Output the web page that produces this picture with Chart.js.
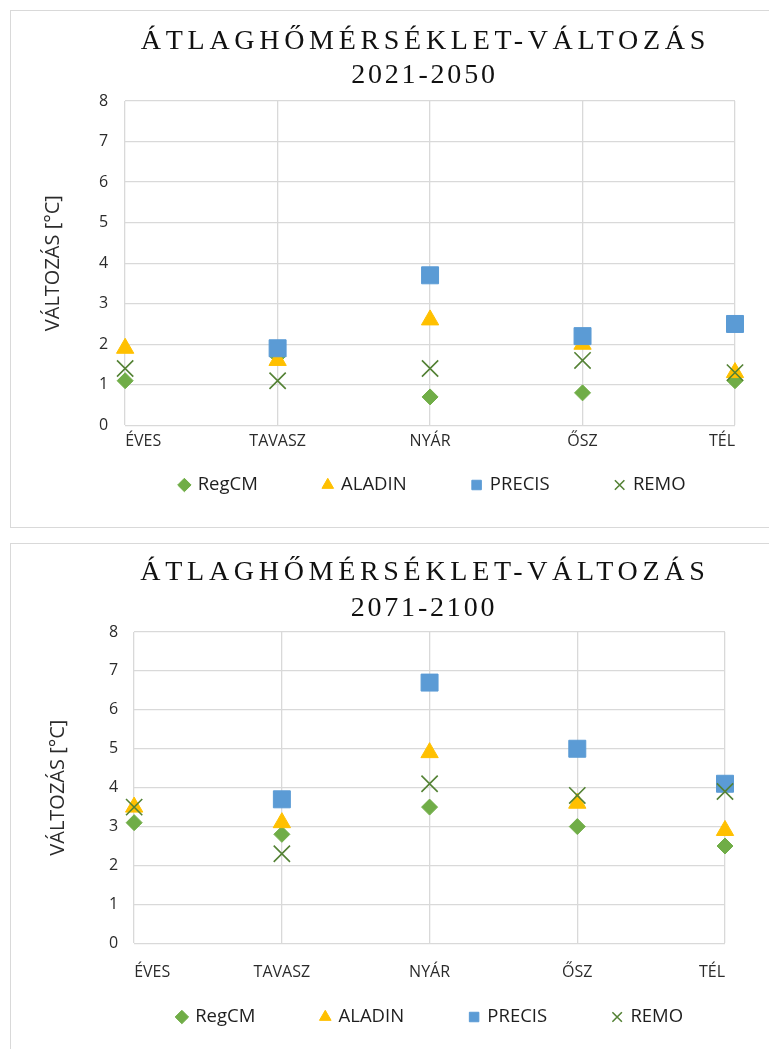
<!DOCTYPE html>
<html>
<head>
<meta charset="utf-8">
<script src="https://cdn.jsdelivr.net/npm/chart.js@4"></script>
<style>
  body { margin: 0; background: #fff; }
  .panel { position: absolute; left: 10px; width: 770px; border: 1px solid #d9d9d9; overflow: hidden; background: #fff; }
  #p1 { top: 10px; height: 516px; }
  #p2 { top: 543px; height: 520px; }
  .panel canvas { position: absolute; left: 0; top: 0; }
</style>
</head>
<body>
<div class="panel" id="p1"><canvas id="c1" width="760" height="611"></canvas></div>
<div class="panel" id="p2"><canvas id="c2" width="760" height="611"></canvas></div>
<script>
// Seasons on the x axis and the four regional climate models
const seasons = ['ÉVES', 'TAVASZ', 'NYÁR', 'ŐSZ', 'TÉL'];
const models = ['RegCM', 'ALADIN', 'PRECIS', 'REMO'];
const yTickValues = [0, 1, 2, 3, 4, 5, 6, 7, 8];

// Mean temperature change [°C], 2021-2050
const regcm2021 = [1.1, 1.7, 0.7, 0.8, 1.1];
const aladin2021 = [1.9, 1.6, 2.6, 2.0, 1.3];
const precis2021 = [null, 1.9, 3.7, 2.2, 2.5];
const remo2021 = [1.4, 1.1, 1.4, 1.6, 1.3];

// Mean temperature change [°C], 2071-2100
const regcm2071 = [3.1, 2.8, 3.5, 3.0, 2.5];
const aladin2071 = [3.5, 3.1, 4.9, 3.6, 2.9];
const precis2071 = [null, 3.7, 6.7, 5.0, 4.1];
const remo2071 = [3.5, 2.3, 4.1, 3.8, 3.9];

const titleMain = 'ÁTLAGHŐMÉRSÉKLET-VÁLTOZÁS';
const period1 = '2021-2050';
const period2 = '2071-2100';
const yAxisTitle = 'VÁLTOZÁS [°C]';

// Marker look for each model
const markerStyles = [
  { pointStyle: 'rectRot', color: '#70AD47', radius: 8, border: 1, order: 4 },
  { pointStyle: 'triangle', color: '#FFC000', radius: 10, border: 1, order: 3 },
  { pointStyle: 'rect', color: '#5B9BD5', radius: 12, border: 1, order: 2 },
  { pointStyle: 'crossRot', color: '#548235', radius: 11.5, border: 1.6, order: 1 }
];

// Two-line title with its own letter spacing per line
const spacedTitle = {
  id: 'spacedTitle',
  afterDraw(chart, args, opts) {
    const { ctx, chartArea } = chart;
    const cx = (chartArea.left + chartArea.right) / 2 + opts.shift;
    ctx.save();
    ctx.font = opts.font;
    ctx.fillStyle = opts.color;
    ctx.textAlign = 'left';
    ctx.textBaseline = 'alphabetic';
    opts.lines.forEach((line, i) => {
      ctx.letterSpacing = opts.spacing[i] + 'px';
      const w = ctx.measureText(line).width - opts.spacing[i];
      ctx.fillText(line, cx - w / 2, opts.baselines[i]);
    });
    ctx.letterSpacing = '0px';
    ctx.restore();
  }
};

// Moves the legend row up next to the category labels and centres it under the plot
const legendNudge = {
  id: 'legendNudge',
  afterLayout(chart, args, opts) {
    const lg = chart.legend;
    if (!lg) return;
    lg.top -= opts.dy; lg.bottom -= opts.dy;
    lg.left += opts.dx; lg.right += opts.dx;
  }
};

function makeChart(canvasId, period, series, geo) {
  const datasets = models.map((name, i) => {
    const m = markerStyles[i];
    return {
      label: name,
      data: series[i],
      showLine: false,
      pointStyle: m.pointStyle,
      pointRadius: m.radius,
      pointHoverRadius: m.radius,
      pointBorderWidth: m.border,
      borderWidth: m.border,
      backgroundColor: m.color,
      borderColor: m.color,
      pointBackgroundColor: m.color,
      pointBorderColor: m.color,
      order: m.order
    };
  });

  return new Chart(document.getElementById(canvasId), {
    type: 'line',
    data: { labels: seasons, datasets },
    plugins: [spacedTitle, legendNudge],
    options: {
      responsive: false,
      animation: false,
      events: [],
      layout: { padding: { top: geo.top, left: geo.left, right: geo.right, bottom: geo.bottom } },
      scales: {
        x: {
          offset: false,
          grid: { color: '#d9d9d9', lineWidth: 1.3, drawTicks: false },
          border: { display: false },
          ticks: {
            align: 'inner',
            autoSkip: false,
            maxRotation: 0,
            padding: geo.xPad,
            color: '#2b2b2b',
            font: { family: '"Open Sans"', size: 16 }
          }
        },
        y: {
          min: 0,
          max: 8,
          afterBuildTicks: (scale) => { scale.ticks = yTickValues.map(v => ({ value: v })); },
          grid: { color: '#d9d9d9', lineWidth: 1.3, drawTicks: false },
          border: { display: false },
          ticks: {
            padding: geo.yPad,
            color: '#2b2b2b',
            font: { family: '"Open Sans"', size: 16 }
          },
          title: {
            display: true,
            text: yAxisTitle,
            color: '#2b2b2b',
            font: { family: '"Open Sans"', size: 20 },
            padding: { top: 4, bottom: geo.titleGap }
          }
        }
      },
      plugins: {
        title: { display: false },
        tooltip: { enabled: false },
        legend: {
          position: 'bottom',
          labels: {
            usePointStyle: true,
            boxWidth: 8,
            boxHeight: 9.5,
            padding: 66,
            color: '#1e1e1e',
            font: { family: '"Open Sans"', size: 18.5 },
            sort: (a, b) => a.datasetIndex - b.datasetIndex
          }
        },
        legendNudge: { dy: geo.lift, dx: 47 },
        spacedTitle: {
          lines: [titleMain, period],
          spacing: [4.7, 2.8],
          baselines: geo.baselines,
          shift: geo.shift,
          font: '28px "Liberation Serif"',
          color: '#111'
        }
      }
    }
  });
}

makeChart('c1', period1, [regcm2021, aladin2021, precis2021, remo2021],
  { top: 90, left: 26, right: 36, bottom: 69, xPad: 7, yPad: 17, titleGap: 17, lift: 48.75, baselines: [38, 72], shift: -7 });

makeChart('c2', period2, [regcm2071, aladin2071, precis2071, remo2071],
  { top: 88, left: 31, right: 46, bottom: 58, xPad: 20, yPad: 16, titleGap: 23, lift: 60.75, baselines: [36, 72], shift: -7 });
</script>
</body>
</html>
